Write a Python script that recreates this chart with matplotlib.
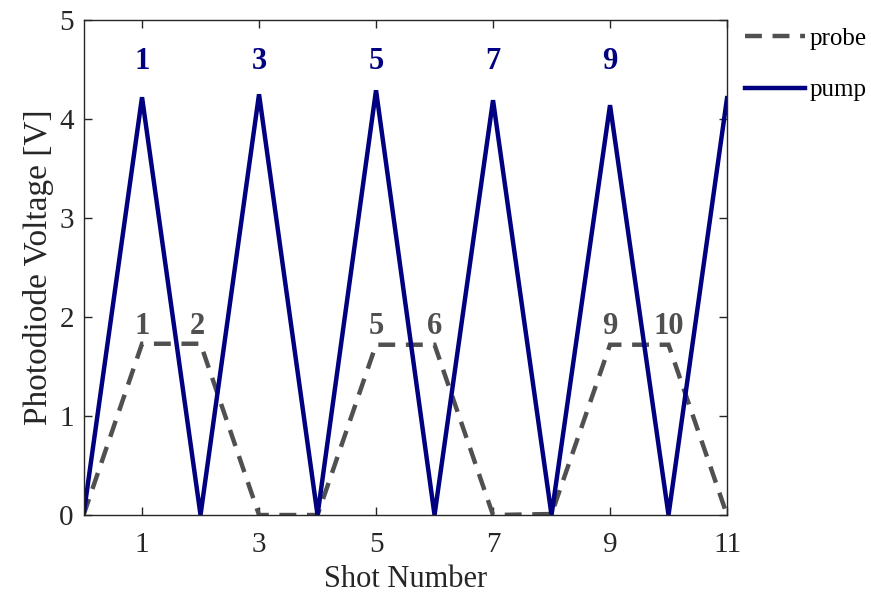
import numpy as np
import matplotlib
matplotlib.use("Agg")
import matplotlib.pyplot as plt

plt.rcParams['font.family'] = ['Liberation Serif', 'DejaVu Serif']

# shot index
shots = [0, 1, 2, 3, 4, 5, 6, 7, 8, 9, 10, 11]
pump_v = [0, 4.22, 0, 4.25, 0, 4.29, 0, 4.19, 0, 4.14, 0, 4.21]
probe_v = [0, 1.73, 1.73, 0, 0, 1.72, 1.72, 0, 0.01, 1.72, 1.72, 0]

pump_labels = ["1", "3", "5", "7", "9"]
pump_label_x = [1, 3, 5, 7, 9]
probe_labels = ["1", "2", "5", "6", "9", "10"]
probe_label_x = [1, 1.95, 5, 6, 9, 10]

xticks = [1, 3, 5, 7, 9, 11]
yticks = [0, 1, 2, 3, 4, 5]

pump_color = '#000080'
probe_color = '#505050'
axis_color = '#262626'

fig = plt.figure(figsize=(8.71, 5.93), dpi=100)
ax = fig.add_axes([0.0959, 0.1315, 0.7388, 0.8348])

ax.plot(shots, probe_v, color=probe_color, lw=3.2, dashes=(3.8, 2.4),
        dash_joinstyle='miter', label='probe')
ax.plot(shots, pump_v, color=pump_color, lw=3.2, solid_joinstyle='miter',
        label='pump')

for lbl, x in zip(pump_labels, pump_label_x):
    ax.text(x, 4.58, lbl, color=pump_color, fontsize=22, fontweight='bold',
            ha='center', va='center')
for lbl, x in zip(probe_labels, probe_label_x):
    ax.text(x, 1.9, lbl, color=probe_color, fontsize=22, fontweight='bold',
            ha='center', va='center')

ax.set_xlim(0, 11)
ax.set_ylim(0, 5)
ax.set_xticks(xticks)
ax.set_yticks(yticks)
ax.tick_params(direction='in', top=True, right=True, length=6, width=1,
               colors=axis_color, labelsize=21)
ax.tick_params(axis='x', pad=12)
ax.tick_params(axis='y', pad=7)
for s in ax.spines.values():
    s.set_color(axis_color)
    s.set_linewidth(1)

ax.set_xlabel("Shot Number", fontsize=22, color=axis_color, labelpad=5)
ax.set_ylabel("Photodiode Voltage [V]", fontsize=24, color=axis_color, labelpad=4)

ax.legend(loc='upper left', bbox_to_anchor=(1.0, 1.02), frameon=False,
          fontsize=18, handlelength=2.4, handletextpad=0.2, labelspacing=1.15,
          borderaxespad=0.3)

fig.savefig("out.png", dpi=100)
